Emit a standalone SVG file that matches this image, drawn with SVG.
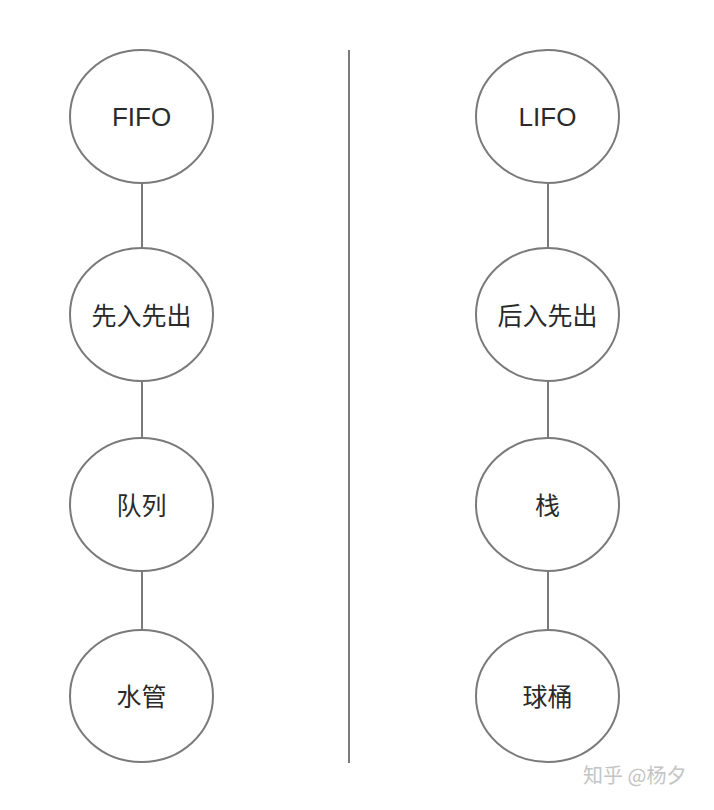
<svg xmlns="http://www.w3.org/2000/svg" width="714" height="810" viewBox="0 0 714 810">
<style>
.n ellipse{fill:#fff;stroke:#7a7a7a;stroke-width:2}
.n text{font-family:"Liberation Sans","Noto Sans CJK SC",sans-serif;font-size:25px;fill:#2a2a2a;text-anchor:middle}
.n text.lat{font-size:26px}
.c line{stroke:#7a7a7a;stroke-width:2}
.wm{font-family:"Noto Sans CJK SC",sans-serif;font-size:20px;fill:#c4c4c4}
</style>
<rect width="714" height="810" fill="#fff"/>
<g class="c" id="connectors">
<line x1="142" y1="183" x2="142" y2="248"/>
<line x1="142" y1="381" x2="142" y2="438"/>
<line x1="142" y1="571" x2="142" y2="632"/>
<line x1="548" y1="183" x2="548" y2="248"/>
<line x1="548" y1="381" x2="548" y2="438"/>
<line x1="548" y1="568" x2="548" y2="630"/>
<line x1="349" y1="50" x2="349" y2="763"/>
</g>
<g class="n" id="fifo"><ellipse cx="141.5" cy="116.5" rx="71.5" ry="66.5"/><text class="lat" x="141.5" y="126">FIFO</text></g>
<g class="n" id="xrxc"><ellipse cx="141.5" cy="314.5" rx="71.5" ry="66.5"/><text x="141.5" y="325">先入先出</text></g>
<g class="n" id="duilie"><ellipse cx="141.5" cy="504.5" rx="71.5" ry="66.5"/><text x="141.5" y="515">队列</text></g>
<g class="n" id="shuiguan"><ellipse cx="141.5" cy="696" rx="71.5" ry="66"/><text x="141.5" y="706">水管</text></g>
<g class="n" id="lifo"><ellipse cx="547.5" cy="116.5" rx="71.5" ry="66.5"/><text class="lat" x="547.5" y="126">LIFO</text></g>
<g class="n" id="hrxc"><ellipse cx="547.5" cy="314.5" rx="71.5" ry="66.5"/><text x="547.5" y="325">后入先出</text></g>
<g class="n" id="zhan"><ellipse cx="547.5" cy="504.5" rx="71.5" ry="66.5"/><text x="547.5" y="515">栈</text></g>
<g class="n" id="qiutong"><ellipse cx="547.5" cy="696" rx="71.5" ry="66"/><text x="547.5" y="706">球桶</text></g>
<text class="wm" x="583" y="783">知乎 @杨夕</text>
</svg>
